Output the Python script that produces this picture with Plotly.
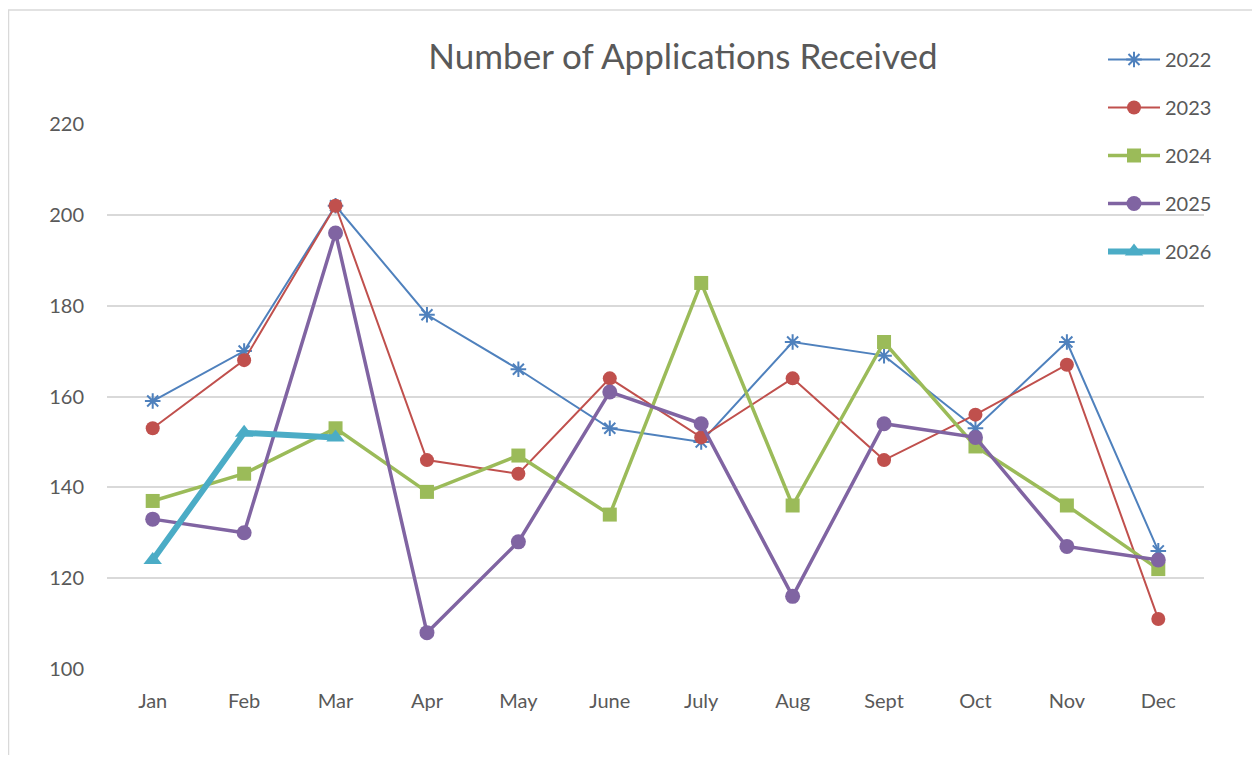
import plotly.graph_objects as go

months = ["Jan", "Feb", "Mar", "Apr", "May", "June", "July", "Aug", "Sept", "Oct", "Nov", "Dec"]
y2022 = [159, 170, 202, 178, 166, 153, 150, 172, 169, 153, 172, 126]
y2023 = [153, 168, 202, 146, 143, 164, 151, 164, 146, 156, 167, 111]
y2024 = [137, 143, 153, 139, 147, 134, 185, 136, 172, 149, 136, 122]
y2025 = [133, 130, 196, 108, 128, 161, 154, 116, 154, 151, 127, 124]
y2026 = [124, 152, 151]
y_ticks = [100, 120, 140, 160, 180, 200, 220]

series = [
    ("2022", y2022, "#4F81BD", 2, "asterisk-open", 13),
    ("2023", y2023, "#C0504D", 2, "circle", 14),
    ("2024", y2024, "#9BBB59", 3.5, "square", 14),
    ("2025", y2025, "#8064A2", 3.5, "circle", 15),
    ("2026", y2026, "#4BACC6", 6, "triangle-up", 16),
]

W, H = 1244, 747
L, R, T, B = 99, 48, 116, 86
pw, ph = W - L - R, H - T - B

fig = go.Figure()
for name, vals, color, lw, sym, ms in series:
    fig.add_trace(go.Scatter(
        x=months[:len(vals)], y=vals, name=name, mode="lines+markers",
        legendgroup=name,
        line=dict(color=color, width=lw),
        marker=dict(symbol=sym, size=ms, color=color,
                    line=dict(color=color, width=2 if sym == "asterisk-open" else 0)),
    ))

fig.update_layout(
    width=W, height=H,
    paper_bgcolor="white", plot_bgcolor="white",
    margin=dict(l=L, r=R, t=T, b=B),
    font=dict(family="Lato, Open Sans, sans-serif", color="#595959", size=20),
    title=dict(text="Number of Applications Received", x=(683 - 8) / W, xanchor="center",
               y=1 - (57 - 8) / H, yanchor="middle", yref="container",
               font=dict(size=35, color="#595959")),
    legend=dict(x=(1103 - 8 - L) / pw, xanchor="left", y=(661 - 32) / ph, yanchor="top",
                bgcolor="rgba(0,0,0,0)", tracegroupgap=19, itemwidth=52,
                font=dict(size=20, color="#595959")),
    showlegend=True,
)
fig.update_xaxes(showgrid=False, showline=False, zeroline=False, ticks="",
                 ticklabelstandoff=18, tickfont=dict(size=20, color="#595959"),
                 range=[-0.5, 11.5])
fig.update_yaxes(range=[100, 220], tickvals=y_ticks, showgrid=True,
                 gridcolor="#D9D9D9", gridwidth=1.5, zeroline=False, showline=False,
                 ticks="", ticklabelstandoff=22, tickfont=dict(size=20, color="#595959"))

fig.add_shape(type="rect", xref="paper", yref="paper",
              x0=(0.5 - L) / pw, x1=(1275 - 8 - L) / pw, y0=-(B + 20) / ph, y1=(661 - 2) / ph,
              line=dict(color="#D9D9D9", width=1.5), fillcolor="rgba(0,0,0,0)", layer="below")

fig.write_html("out.html")
